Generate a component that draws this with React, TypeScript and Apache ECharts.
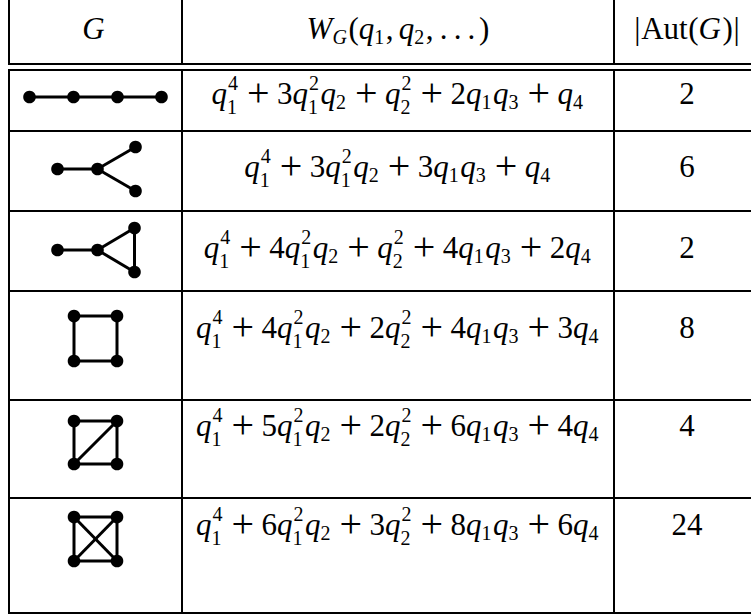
import React, { useEffect, useRef } from "react";
import * as echarts from "echarts";

const W = 751;
const H = 616;
const FAM = '"Liberation Serif", "Times New Roman", serif';
const FS = 31;
const SFS = 20;
const PFS = 40;
const K = 0.34;
const SUP = 14;
const SUB1 = 5;
const SUB2 = 9.5;
const OPSP = 0.24;

// ---- data ----
const headerLabels = ["G", "W_G(q_1, q_2, ...)", "|Aut(G)|"];
// monomials: list of [index, power]
const monomials: [number, number][][] = [
  [[1, 4]],
  [[1, 2], [2, 1]],
  [[2, 2]],
  [[1, 1], [3, 1]],
  [[4, 1]],
];
const coeffsP4 = [1, 3, 1, 2, 1];
const coeffsStar = [1, 3, 0, 3, 1];
const coeffsPaw = [1, 4, 1, 4, 2];
const coeffsC4 = [1, 4, 2, 4, 3];
const coeffsDiamond = [1, 5, 2, 6, 4];
const coeffsK4 = [1, 6, 3, 8, 6];
const rowCoeffs = [coeffsP4, coeffsStar, coeffsPaw, coeffsC4, coeffsDiamond, coeffsK4];
const autOrders = [2, 6, 2, 8, 4, 24];

// graph drawings (node offsets from cell centre) and edges
const graphNodes: [number, number][][] = [
  [[-66, 0], [-22, 0], [22, 0], [66, 0]],
  [[-38, 0], [2, 0], [40, -22], [40, 22]],
  [[-38, 0], [2, 0], [39, -22], [39, 22]],
  [[-21.5, -22.5], [21.5, -22.5], [-21.5, 22.5], [21.5, 22.5]],
  [[-21.5, -21.5], [21.5, -21.5], [-21.5, 21.5], [21.5, 21.5]],
  [[-21.5, -22], [21.5, -22], [-21.5, 22], [21.5, 22]],
];
const graphEdges: [number, number][][] = [
  [[0, 1], [1, 2], [2, 3]],
  [[0, 1], [1, 2], [1, 3]],
  [[0, 1], [1, 2], [1, 3], [2, 3]],
  [[0, 1], [1, 3], [3, 2], [2, 0]],
  [[0, 1], [1, 3], [3, 2], [2, 0], [2, 1]],
  [[0, 1], [1, 3], [3, 2], [2, 0], [2, 1], [0, 3]],
];

// ---- layout ----
const hRules = [64, 70, 131, 211, 291, 400, 498, 613];
const vRules = [9, 182, 614];
const colCenters = [95.5, 398, 687];
const headerBaseline = 39;
const rowBaselines = [104, 177, 258, 338, 436, 535];
const graphCenterY = [97, 169, 250, 338.5, 442.5, 539];

type Glyph = { t: string; it: boolean; fs: number; x: number; y: number };

class Lay {
  g: Glyph[] = [];
  x = 0;
  ctx: CanvasRenderingContext2D;
  constructor(ctx: CanvasRenderingContext2D) {
    this.ctx = ctx;
  }
  w(t: string, it: boolean, fs: number) {
    this.ctx.font = `${it ? "italic " : ""}${fs}px ${FAM}`;
    return this.ctx.measureText(t).width;
  }
  put(t: string, it = false, fs = FS, dy = 0) {
    // y: central-baseline offset relative to the math baseline
    this.g.push({ t, it, fs, x: this.x, y: -dy - K * fs });
    this.x += this.w(t, it, fs);
  }
  sp(em: number) {
    this.x += em * FS;
  }
  scripts(sub: [string, boolean] | null, sup: [string, boolean] | null, subKern = 0) {
    const x0 = this.x;
    let end = x0;
    if (sup) {
      const sx = x0 + 1;
      this.g.push({ t: sup[0], it: sup[1], fs: SFS, x: sx, y: -SUP - K * SFS });
      end = Math.max(end, sx + this.w(sup[0], sup[1], SFS));
    }
    if (sub) {
      const sx = x0 + subKern;
      const d = sup ? SUB2 : SUB1;
      this.g.push({ t: sub[0], it: sub[1], fs: SFS, x: sx, y: d - K * SFS });
      end = Math.max(end, sx + this.w(sub[0], sub[1], SFS));
    }
    this.x = end + 0.05 * FS;
  }
  var_q(i: number, p: number) {
    this.put("q", true);
    this.scripts([String(i), false], p > 1 ? [String(p), false] : null);
  }
  toElements(cx: number, baseline: number) {
    const off = cx - this.x / 2;
    return this.g.map((g) => ({
      type: "text",
      x: off + g.x,
      y: baseline + g.y,
      silent: true,
      style: {
        text: g.t,
        fontSize: g.fs,
        fontFamily: FAM,
        fontStyle: g.it ? "italic" : "normal",
        fill: "#000",
        align: "left",
        verticalAlign: "middle",
      },
    }));
  }
}

function buildElements(ctx: CanvasRenderingContext2D) {
  const els: any[] = [];
  const line = (x1: number, y1: number, x2: number, y2: number, lw: number) =>
    els.push({
      type: "line",
      silent: true,
      shape: { x1, y1, x2, y2 },
      style: { stroke: "#000", lineWidth: lw },
    });

  // rules
  hRules.forEach((y) => line(8, y, W, y, 2));
  vRules.forEach((x) => {
    line(x, 0, x, hRules[0] + 1, 2);
    line(x, hRules[1] - 1, x, hRules[hRules.length - 1] + 1, 2);
  });

  // header
  {
    const l = new Lay(ctx);
    l.put(headerLabels[0], true);
    els.push(...l.toElements(colCenters[0] - 2, headerBaseline));
  }
  {
    const l = new Lay(ctx);
    l.put("W", true);
    l.scripts(["G", true], null, 0);
    l.put("(");
    l.var_q(1, 1);
    l.put(",");
    l.sp(0.167);
    l.var_q(2, 1);
    l.put(",");
    l.sp(0.2);
    for (let d = 0; d < 3; d++) {
      l.put(".");
      l.sp(d < 2 ? 0.2 : 0.12);
    }
    l.put(")");
    els.push(...l.toElements(colCenters[1], headerBaseline));
  }
  {
    const l = new Lay(ctx);
    l.put("|");
    l.sp(0.02);
    l.put("Aut");
    l.sp(0.02);
    l.put("(");
    l.put("G", true);
    l.sp(0.05);
    l.put(")");
    l.sp(0.02);
    l.put("|");
    els.push(...l.toElements(colCenters[2], headerBaseline));
  }

  // rows
  rowCoeffs.forEach((coeffs, r) => {
    const l = new Lay(ctx);
    let first = true;
    coeffs.forEach((c, m) => {
      if (c === 0) return;
      if (!first) {
        l.sp(OPSP);
        l.put("+", false, PFS, -2.2);
        l.sp(OPSP);
      }
      first = false;
      if (c !== 1) l.put(String(c));
      monomials[m].forEach(([i, p]) => l.var_q(i, p));
    });
    els.push(...l.toElements(colCenters[1], rowBaselines[r]));

    const a = new Lay(ctx);
    a.put(String(autOrders[r]));
    els.push(...a.toElements(colCenters[2], rowBaselines[r]));

    // graph
    const cx = colCenters[0];
    const cy = graphCenterY[r];
    const nodes = graphNodes[r];
    graphEdges[r].forEach(([u, v]) =>
      line(cx + nodes[u][0], cy + nodes[u][1], cx + nodes[v][0], cy + nodes[v][1], 3)
    );
    nodes.forEach(([dx, dy]) =>
      els.push({
        type: "circle",
        silent: true,
        shape: { cx: cx + dx, cy: cy + dy, r: 6.3 },
        style: { fill: "#000" },
      })
    );
  });
  return els;
}

export default function App() {
  const ref = useRef<HTMLDivElement>(null);
  useEffect(() => {
    if (!ref.current) return;
    const chart = echarts.init(ref.current, null, { renderer: "svg", width: W, height: H });
    const canvas = document.createElement("canvas");
    const ctx = canvas.getContext("2d") as CanvasRenderingContext2D;
    chart.setOption({
      animation: false,
      backgroundColor: "#fff",
      graphic: { elements: buildElements(ctx) },
    });
    return () => chart.dispose();
  }, []);
  return (
    <div
      ref={ref}
      style={{ position: "absolute", left: 0, top: 0, width: W, height: H, background: "#fff" }}
    />
  );
}
